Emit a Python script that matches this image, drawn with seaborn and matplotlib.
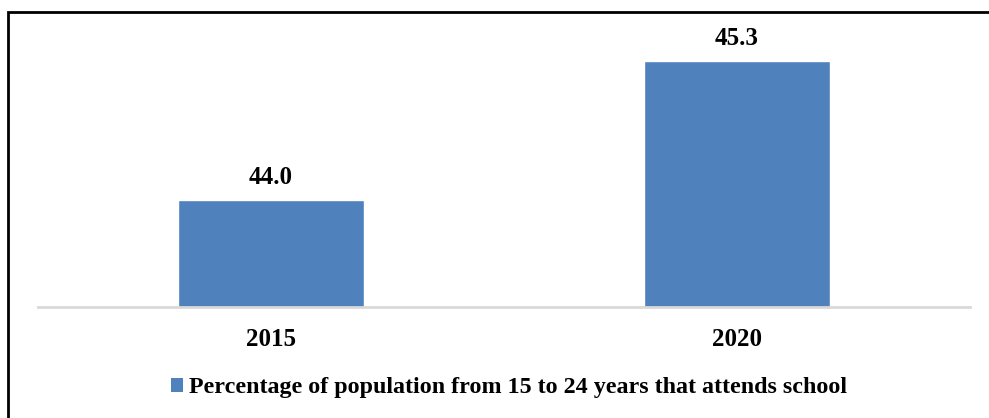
import matplotlib
matplotlib.use("Agg")
import matplotlib.pyplot as plt
from matplotlib.patches import Rectangle, Patch
import seaborn as sns
import pandas as pd

years = ["2015", "2020"]
values = [44.0, 45.3]
series_name = "Percentage of population from 15 to 24 years that attends school"
bar_color = "#4F81BD"

sns.set_style("white")
plt.rcParams["font.family"] = ["Liberation Serif", "DejaVu Serif"]
plt.rcParams["font.weight"] = "bold"
plt.rcParams["text.color"] = "black"
plt.rcParams["xtick.color"] = "black"

df = pd.DataFrame({"year": years, "value": values})

W, H = 989, 418
fig = plt.figure(figsize=(W / 100, H / 100), dpi=100)

# plot area: baseline at y=307 px, from x=38 to x=970
left, right = 38, 970
base_px, top_px = 307, 39.5
ax = fig.add_axes([left / W, 1 - base_px / H, (right - left) / W, (base_px - top_px) / H])

sns.barplot(data=df, x="year", y="value", color=bar_color, width=0.4,
            saturation=1, ax=ax)
ax.set_xlim(-0.5, 1.5)
ax.set_ylim(43.0, 45.5)

for p, v in zip(ax.patches, values):
    ax.annotate(f"{v:.1f}", (p.get_x() + p.get_width() / 2, v),
                xytext=(0, 16), textcoords="offset pixels",
                ha="center", va="baseline", fontsize=18, fontweight="bold",
                color="black")

for s in ["top", "right", "left"]:
    ax.spines[s].set_visible(False)
ax.spines["bottom"].set_color("#D9D9D9")
ax.spines["bottom"].set_linewidth(2)
ax.set_yticks([])
ax.set_xlabel("")
ax.set_ylabel("")
ax.tick_params(axis="x", length=0, pad=15, labelsize=18, labelcolor="black")
for t in ax.get_xticklabels():
    t.set_fontweight("bold")

fig.legend(handles=[Patch(facecolor=bar_color, edgecolor="none", label=series_name)],
           loc="center", bbox_to_anchor=(509 / W, 1 - 388 / H), frameon=False,
           handlelength=0.5, handleheight=0.5, handletextpad=0.25,
           prop={"weight": "bold", "size": 17.3})

# outer frame around the chart area
fig.add_artist(Rectangle((8 / W, -0.05), 1.2, 1 - 12 / H + 0.05,
                         transform=fig.transFigure, fill=False,
                         edgecolor="black", linewidth=2, clip_on=False))

fig.savefig("out.png", dpi=100)
